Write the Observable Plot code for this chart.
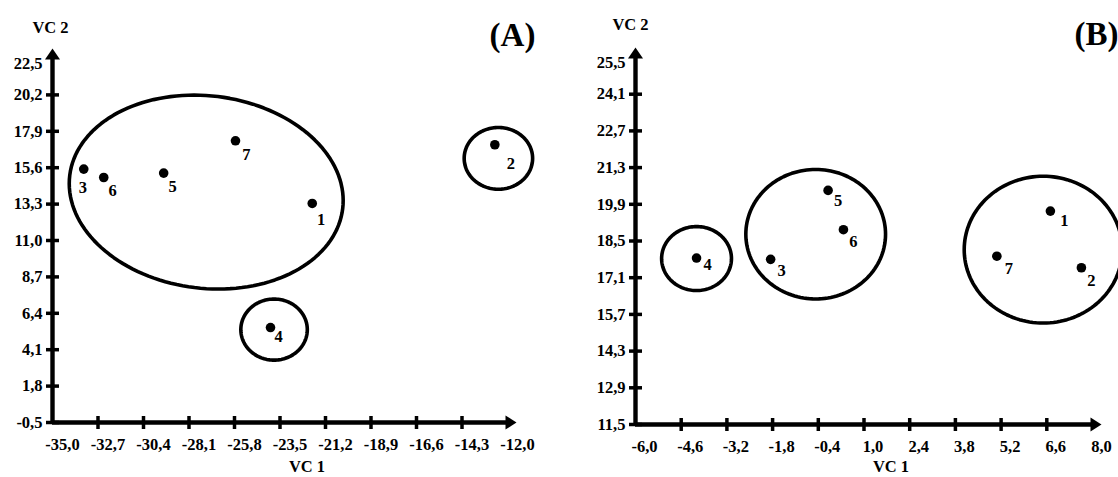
<!DOCTYPE html>
<html><head><meta charset="utf-8">
<script src="https://cdn.jsdelivr.net/npm/d3@7"></script>
<script src="https://cdn.jsdelivr.net/npm/@observablehq/plot@0.6"></script>
<style>
html,body{margin:0;padding:0;background:#fff;}
#wrap{display:flex;width:1118px;height:477px;overflow:hidden;background:#fff;}
#wrap svg{overflow:visible;flex:none;max-width:none;}
#wrap svg text{font-family:"Liberation Serif","Times New Roman",serif;font-weight:bold;}
</style></head><body><div id="wrap"></div>
<script>
// ---------- Panel A data ----------
const labelsA = ["1", "2", "3", "4", "5", "6", "7"];
const vc1A = [-21.87, -12.64, -33.42, -23.98, -29.38, -32.41, -25.75];
const vc2A = [13.34, 17.05, 15.51, 5.50, 15.26, 14.98, 17.30];
const xTicksA = [-35.0, -32.7, -30.4, -28.1, -25.8, -23.5, -21.2, -18.9, -16.6, -14.3, -12.0];
const yTicksA = [-0.5, 1.8, 4.1, 6.4, 8.7, 11.0, 13.3, 15.6, 17.9, 20.2, 22.5];
// group outlines (centre, semi-axes in data units, tilt in degrees)
const groupCxA = [-27.23, -12.46, -23.80];
const groupCyA = [14.06, 16.19, 5.37];
const groupRxA = [6.95, 1.73, 1.68];
const groupRyA = [6.08, 1.95, 1.93];
const groupTiltA = [7, 0, 0];

// ---------- Panel B data ----------
const labelsB = ["1", "2", "3", "4", "5", "6", "7"];
const vc1B = [6.71, 7.66, -1.86, -4.13, -0.10, 0.37, 5.07];
const vc2B = [19.64, 17.48, 17.80, 17.85, 20.43, 18.93, 17.92];
const xTicksB = [-6.0, -4.6, -3.2, -1.8, -0.4, 1.0, 2.4, 3.8, 5.2, 6.6, 8.0];
const yTicksB = [11.5, 12.9, 14.3, 15.7, 17.1, 18.5, 19.9, 21.3, 22.7, 24.1, 25.5];
const groupCxB = [-4.13, -0.48, 6.49];
const groupCyB = [17.83, 18.76, 18.17];
const groupRxB = [1.07, 2.14, 2.42];
const groupRyB = [1.22, 2.47, 2.80];
const groupTiltB = [0, 0, 0];

// ---------- drawing ----------
const FS = 16.5;
const fmt = d => d.toFixed(1).replace(".", ",");
const vTick = {draw(c) { c.moveTo(0, -6.5); c.lineTo(0, 6.5); }};
const hTick = {draw(c) { c.moveTo(-6.5, 0); c.lineTo(6.5, 0); }};
const arrowUp = {draw(c) { c.moveTo(-7.5, 1); c.lineTo(7.5, 1); c.lineTo(0, -10); c.closePath(); }};
const arrowRight = {draw(c) { c.moveTo(-2, -7); c.lineTo(-2, 7); c.lineTo(9, 0); c.closePath(); }};
const T = {fontSize: FS, fontWeight: "bold", lineAnchor: "middle", fill: "black"};

function panel(cfg) {
  const W = 559, H = 477;
  const [ml, mr, mt, mb] = cfg.margins;
  const xDom = [cfg.xTicks[0], cfg.xTicks[cfg.xTicks.length - 1]];
  const yDom = [cfg.yTicks[0], cfg.yTicks[cfg.yTicks.length - 1]];
  const kx = (W - ml - mr) / (xDom[1] - xDom[0]);
  const ky = (H - mt - mb) / (yDom[1] - yDom[0]);
  // outline points for each group, tilt applied in screen space
  const outline = [];
  cfg.cx.forEach((cx, g) => {
    const a = cfg.rx[g] * kx, b = cfg.ry[g] * ky, th = cfg.tilt[g] * Math.PI / 180;
    for (let k = 0; k < 144; k++) {
      const t = k / 144 * 2 * Math.PI;
      const sx = a * Math.cos(t) * Math.cos(th) - b * Math.sin(t) * Math.sin(th);
      const sy = a * Math.cos(t) * Math.sin(th) + b * Math.sin(t) * Math.cos(th);
      outline.push({g, x: cx + sx / kx, y: cfg.cy[g] - sy / ky});
    }
  });
  const idx = cfg.labels.map((_, i) => i);
  const marks = [
    Plot.line(outline, {x: "x", y: "y", z: "g", curve: "linear-closed", stroke: "black", strokeWidth: 3.6}),
    Plot.ruleY([yDom[0]], {x1: xDom[0], x2: xDom[1], stroke: "black", strokeWidth: 4.4}),
    Plot.ruleX([xDom[0]], {y1: yDom[0], y2: yDom[1], stroke: "black", strokeWidth: 4.4}),
    Plot.dot([0], {x: () => xDom[0], y: () => yDom[1], symbol: arrowUp, fill: "black", stroke: "none"}),
    Plot.dot([0], {x: () => xDom[1], y: () => yDom[0], symbol: arrowRight, fill: "black", stroke: "none"}),
    Plot.dot(cfg.xTicks.slice(1, -1), {x: d => d, y: () => yDom[0], symbol: vTick, fill: "none", stroke: "black", strokeWidth: 3.5}),
    Plot.dot(cfg.yTicks.slice(0, -1), {x: () => xDom[0], y: d => d, symbol: hTick, fill: "none", stroke: "black", strokeWidth: 3.5}),
    Plot.text(cfg.xTicks, {x: d => d, y: () => yDom[0], text: fmt, dy: 22, dx: cfg.xLabDx, ...T}),
    Plot.text(cfg.yTicks.slice(0, -1), {x: () => xDom[0], y: d => d, text: fmt, dx: -10, textAnchor: "end", ...T}),
    Plot.text(cfg.yTicks.slice(-1), {x: () => xDom[0], y: d => d, text: fmt, dx: -10, dy: 5, textAnchor: "end", ...T}),
    Plot.dot(idx, {x: i => cfg.vc1[i], y: i => cfg.vc2[i], r: 4.8, fill: "black", stroke: "none"}),
    ...idx.map(i => Plot.text([i], {x: j => cfg.vc1[j], y: j => cfg.vc2[j], text: j => cfg.labels[j],
      dx: cfg.labOff[i][0], dy: cfg.labOff[i][1], ...T})),
    Plot.text(["VC 1"], {frameAnchor: "bottom", text: d => d, dx: 27, dy: cfg.vc1Dy, ...T}),
    Plot.text(["VC 2"], {frameAnchor: "top-left", text: d => d, dx: cfg.vc2Dx, dy: cfg.vc2Dy, textAnchor: "middle", ...T}),
    Plot.text([cfg.tag], {frameAnchor: "top-right", text: d => d, dx: cfg.tagDx, dy: -23, textAnchor: "middle", ...T, fontSize: 33})
  ];
  return Plot.plot({
    width: W, height: H,
    marginLeft: ml, marginRight: mr, marginTop: mt, marginBottom: mb,
    x: {domain: xDom, axis: null},
    y: {domain: yDom, axis: null},
    style: {background: "white", overflow: "visible", fontFamily: "Liberation Serif, Times New Roman, serif"},
    marks
  });
}

const wrap = document.getElementById("wrap");
wrap.appendChild(panel({
  margins: [52, 52, 58, 55],
  xTicks: xTicksA, yTicks: yTicksA,
  vc1: vc1A, vc2: vc2A, labels: labelsA,
  cx: groupCxA, cy: groupCyA, rx: groupRxA, ry: groupRyA, tilt: groupTiltA,
  labOff: [[9, 16], [16, 19], [-1, 19], [8, 9], [9, 14], [9, 13], [11, 14]],
  xLabDx: 10, vc1Dy: 44, vc2Dx: -2, vc2Dy: -31, tag: "(A)", tagDx: 5
}));
wrap.appendChild(panel({
  margins: [76, 26, 57, 53],
  xTicks: xTicksB, yTicks: yTicksB,
  vc1: vc1B, vc2: vc2B, labels: labelsB,
  cx: groupCxB, cy: groupCyB, rx: groupRxB, ry: groupRyB, tilt: groupTiltB,
  labOff: [[14, 10], [10, 13], [11, 11], [11, 7], [10, 10], [10, 12], [12, 13]],
  xLabDx: 9, vc1Dy: 42, vc2Dx: -5, vc2Dy: -33, tag: "(B)", tagDx: 4
}));
</script>
</body></html>
